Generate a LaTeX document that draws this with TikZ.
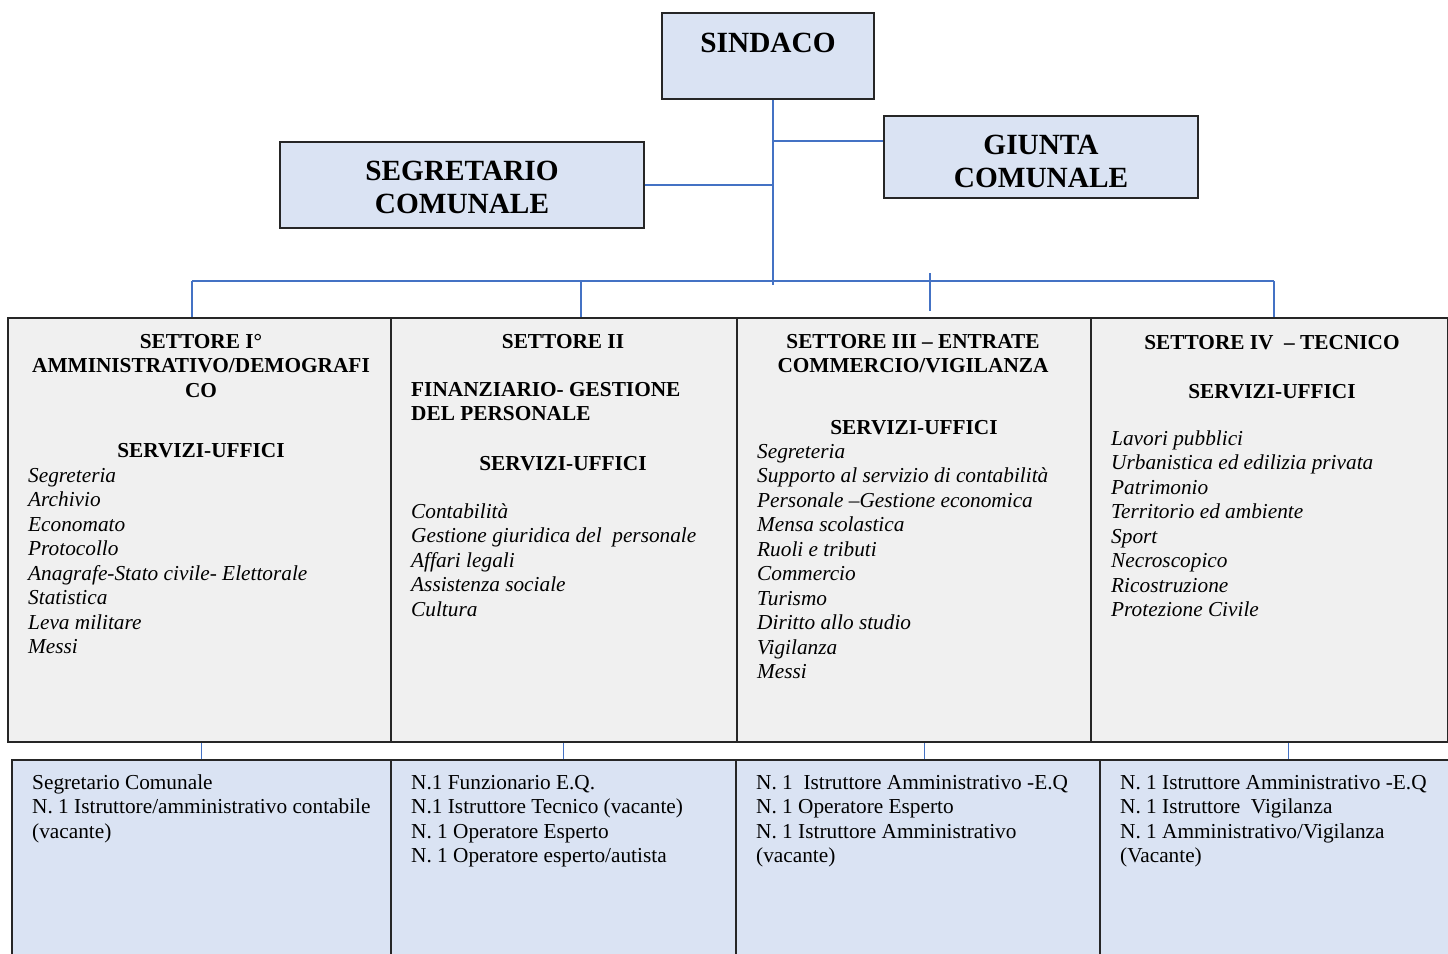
\documentclass[tikz,border=0pt]{standalone}
\usepackage{fontspec}
\setmainfont{Liberation Serif}
\usepackage{tikz}
\usetikzlibrary{positioning}

\definecolor{boxblue}{HTML}{DAE3F3}
\definecolor{boxgrey}{HTML}{F0F0F0}
\definecolor{linkblue}{HTML}{4472C4}
\newcommand\bigtitle{\fontsize{29.3}{33}\selectfont\bfseries}
\newcommand\bodytext{\fontsize{21.3}{24.5}\selectfont}
% righe allineate sulla prima linea di base
\newcommand\lft[1]{\begin{tabular}[t]{@{}l@{}}#1\end{tabular}}
\newcommand\ctr[1]{\begin{tabular}[t]{@{}c@{}}#1\end{tabular}}

\begin{document}
\begin{tikzpicture}[
  x=1pt, y=-1pt,
  topbox/.style={rectangle, draw=black!85, line width=1.1pt, fill=boxblue, inner sep=0},
  setbox/.style={rectangle, draw=black!85, line width=1.1pt, fill=boxgrey, inner sep=0},
  postbox/.style={rectangle, draw=black!85, line width=1.1pt, fill=boxblue, inner sep=0},
  link/.style={draw=linkblue, line width=1.2pt},
  head/.style={inner sep=0, anchor=base, font=\bodytext\bfseries},
  list/.style={inner sep=0, anchor=base west, font=\bodytext}
]
  \useasboundingbox[fill=white] (0,0) rectangle (1448,953);

  % vertici
  \node[topbox, minimum width=212, minimum height=86] (sindaco) at (768,56) {};
  \node[topbox, minimum width=314, minimum height=82] (giunta) at (1041,157) {};
  \node[topbox, minimum width=364, minimum height=86] (segretario) at (462,185) {};
  \node[inner sep=0, anchor=base, font=\bigtitle] (sindacotxt) at (768,52) {SINDACO};
  \node[inner sep=0, anchor=base, font=\bigtitle] (giuntatxt) at (1041,154) {\ctr{GIUNTA\\COMUNALE}};
  \node[inner sep=0, anchor=base, font=\bigtitle] (segretariotxt) at (462,180) {\ctr{SEGRETARIO\\COMUNALE}};

  % settori
  \node[setbox, minimum width=383, minimum height=424] (s1) at (199.5,530) {};
  \node[setbox, minimum width=346, minimum height=424] (s2) at (564,530) {};
  \node[setbox, minimum width=354, minimum height=424] (s3) at (914,530) {};
  \node[setbox, minimum width=357, minimum height=424] (s4) at (1269.5,530) {};

  % posti in organico
  \node[postbox, minimum width=379, minimum height=230] (p1) at (201.5,875) {};
  \node[postbox, minimum width=345, minimum height=230] (p2) at (563.5,875) {};
  \node[postbox, minimum width=364, minimum height=230] (p3) at (918,875) {};
  \node[postbox, minimum width=376, minimum height=230] (p4) at (1288,875) {};

  % collegamenti
  \coordinate (trunk) at (773,285);
  \coordinate (bar1) at (192,281);
  \coordinate (bar2) at (581,281);
  \coordinate (bar3) at (930,273);
  \coordinate (bar4) at (1274,281);
  \coordinate (end3) at (930,311);
  \draw[link] (sindaco.south -| trunk) -- (trunk);
  \draw[link] (trunk |- 0,141) -- (giunta.west |- 0,141);
  \draw[link] (segretario.east) -- (segretario.east -| trunk);
  \draw[link] (bar1) -- (bar4);
  \draw[link] (bar1) -- (bar1 |- s1.north);
  \draw[link] (bar2) -- (bar2 |- s2.north);
  \draw[link] (bar3) -- (end3);
  \draw[link] (bar4) -- (bar4 |- s4.north);
  \draw[link, line width=0.6pt] (p1.north) -- (p1.north |- s1.south);
  \draw[link, line width=0.6pt] (p2.north) -- (p2.north |- s2.south);
  \draw[link, line width=0.6pt] (p3.north) ++(6,0) coordinate (c3) -- (c3 |- s3.south);
  \draw[link, line width=0.6pt] (p4.north) -- (p4.north |- s4.south);

  % testi settore I
  \node[head] (h1) at (201,348) {\ctr{SETTORE I°\\AMMINISTRATIVO/DEMOGRAFI\\CO}};
  \node[head] (u1) at (201,457) {SERVIZI-UFFICI};
  \node[list, font=\bodytext\itshape] (l1) at (28,482) {\lft{Segreteria\\Archivio\\Economato\\Protocollo\\Anagrafe-Stato civile- Elettorale\\Statistica\\Leva militare\\Messi}};

  % testi settore II
  \node[head] (h2) at (563,348) {SETTORE II};
  \node[list, font=\bodytext\bfseries] (f2) at (411,396) {\lft{FINANZIARIO- GESTIONE\\DEL PERSONALE}};
  \node[head] (u2) at (563,470) {SERVIZI-UFFICI};
  \node[list, font=\bodytext\itshape] (l2) at (411,518) {\lft{Contabilità\\Gestione giuridica del\ \ personale\\Affari legali\\Assistenza sociale\\Cultura}};

  % testi settore III
  \node[head] (h3) at (913,348) {\ctr{SETTORE III – ENTRATE\\COMMERCIO/VIGILANZA}};
  \node[head] (u3) at (914,434) {SERVIZI-UFFICI};
  \node[list, font=\bodytext\itshape] (l3) at (757,458) {\lft{Segreteria\\Supporto al servizio di contabilità\\Personale –Gestione economica\\Mensa scolastica\\Ruoli e tributi\\Commercio\\Turismo\\Diritto allo studio\\Vigilanza\\Messi}};

  % testi settore IV
  \node[head] (h4) at (1272,349) {SETTORE IV\ \ – TECNICO};
  \node[head] (u4) at (1272,398) {SERVIZI-UFFICI};
  \node[list, font=\bodytext\itshape] (l4) at (1111,445) {\lft{Lavori pubblici\\Urbanistica ed edilizia privata\\Patrimonio\\Territorio ed ambiente\\Sport\\Necroscopico\\Ricostruzione\\Protezione Civile}};

  % testi posti
  \node[list] (t1) at (32,789) {\lft{Segretario Comunale\\N. 1 Istruttore/amministrativo contabile\\(vacante)}};
  \node[list] (t2) at (411,789) {\lft{N.1 Funzionario E.Q.\\N.1 Istruttore Tecnico (vacante)\\N. 1 Operatore Esperto\\N. 1 Operatore esperto/autista}};
  \node[list] (t3) at (756,789) {\lft{N. 1\ \ Istruttore Amministrativo -E.Q\\N. 1 Operatore Esperto\\N. 1 Istruttore Amministrativo\\(vacante)}};
  \node[list] (t4) at (1120,789) {\lft{N. 1 Istruttore Amministrativo -E.Q\\N. 1 Istruttore\ \ Vigilanza\\N. 1 Amministrativo/Vigilanza\\(Vacante)}};
\end{tikzpicture}
\end{document}
